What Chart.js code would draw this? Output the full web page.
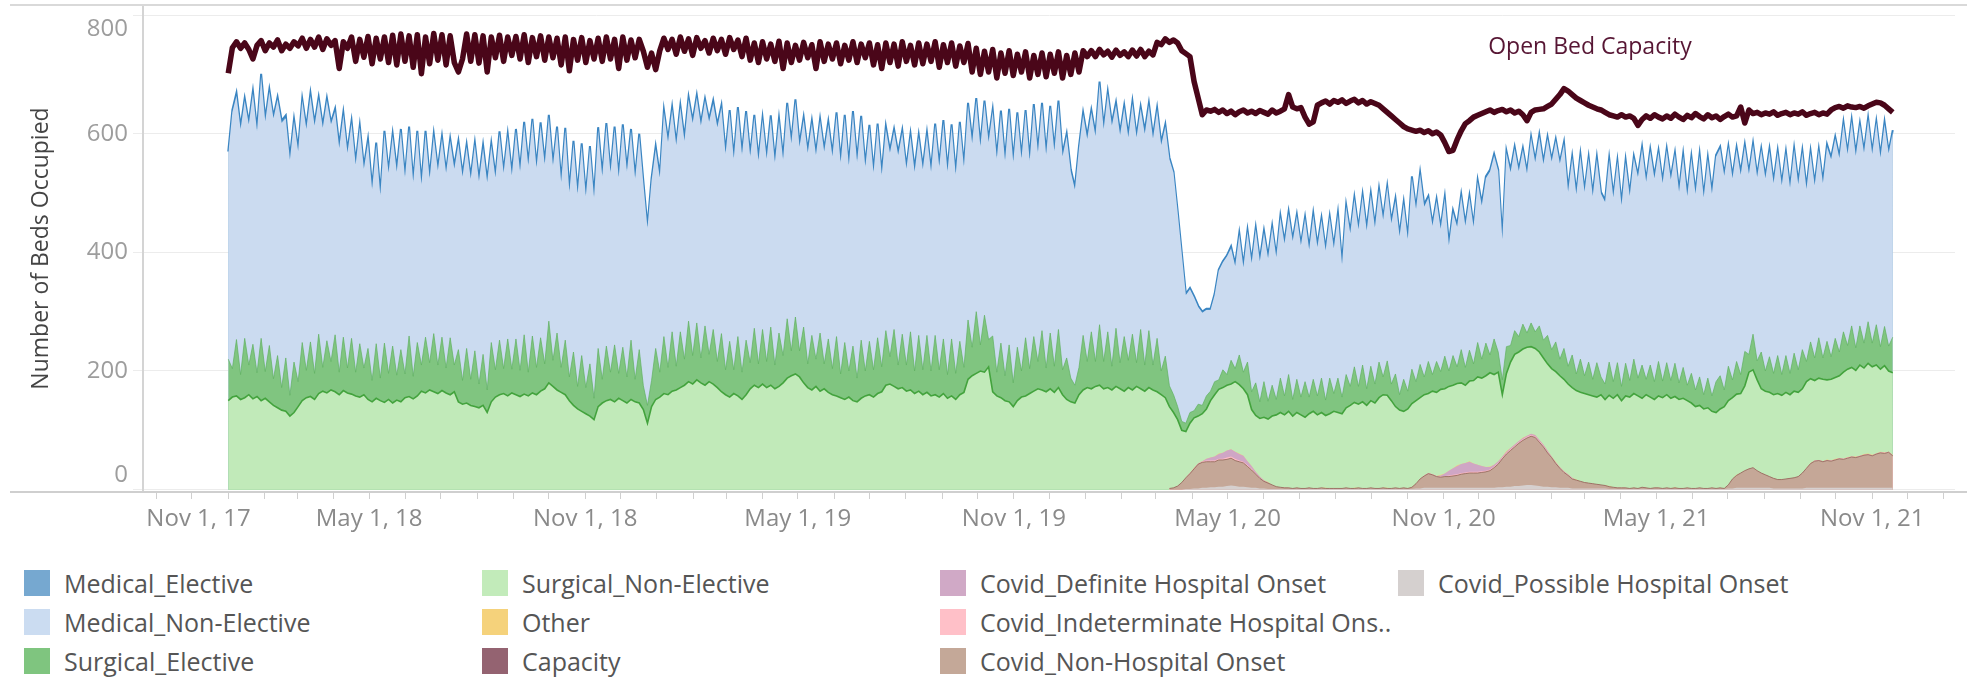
<!DOCTYPE html>
<html>
<head>
<meta charset="utf-8">
<script src="https://cdn.jsdelivr.net/npm/chart.js@4.4.1/dist/chart.umd.min.js"></script>
<style>
  body { margin: 0; background: #fff; font-family: 'Open Sans', sans-serif; }
  #wrap { position: relative; width: 1967px; height: 680px; overflow: hidden; }
  #chartBox { position: absolute; left: 0; top: 0; width: 1967px; height: 545px; }
  #legend { position: absolute; left: 24px; top: 563px; display: grid;
    grid-template-columns: repeat(4, 458px); grid-template-rows: repeat(3, 39px); grid-auto-flow: column; }
  .item { display: flex; align-items: center; font-size: 25px; color: #555; white-space: nowrap; }
  .sw { width: 26px; height: 26px; margin-right: 14px; flex: none; }
</style>
</head>
<body>
<div id="wrap">
  <div id="chartBox"><canvas id="myChart"></canvas></div>
  <div id="legend"></div>
</div>
<script>
// samples every 3.5 days, first one on 1 Jan 2018 (day 61 counted from 1 Nov 2017)
const startDay = 61;
const stepDays = 3.5;
const covidStart = 229; // sample index where the covid / other series begin

const axisLabels = ['Nov 1, 17', 'May 1, 18', 'Nov 1, 18', 'May 1, 19', 'Nov 1, 19',
  'May 1, 20', 'Nov 1, 20', 'May 1, 21', 'Nov 1, 21'];
const yTicks = [0, 200, 400, 600, 800];

const medicalElective = [
  4,4,5,4,4,3,4,4,5,4, 4,3,4,4,5,4,4,4,3,4, 5,4,4,4,4,3,4,5,4,4, 4,4,3,4,5,4,4,4,4,3,
  4,5,4,4,4,4,3,4,5,4, 4,4,4,3,4,5,4,4,4,4, 3,4,5,4,4,4,4,3,4,5, 4,4,4,4,3,4,5,4,4,4,
  4,3,4,5,4,4,4,4,3,4, 5,4,4,4,4,3,4,5,4,4, 4,4,3,4,5,4,4,4,4,3, 4,5,4,4,4,4,3,4,5,4,
  4,4,4,3,4,5,4,4,4,4, 3,4,5,4,4,4,4,3,4,5, 4,4,4,4,3,4,5,4,4,4, 4,3,4,5,4,4,4,4,3,4,
  5,4,4,4,4,3,4,5,4,4, 4,4,3,4,5,4,4,4,4,3, 4,5,4,4,4,4,3,4,5,4, 4,4,4,3,4,5,4,4,4,4,
  3,4,5,4,4,4,4,3,4,5, 4,4,4,4,3,4,5,4,4,4, 4,3,4,5,4,4,4,4,4,3, 2,2,2,2,2,2,2,2,2,2,
  2,2,2,2,3,3,3,3,3,3, 3,3,4,3,3,2,3,3,4,3, 3,2,3,3,4,3,3,3,2,3, 4,3,3,3,3,2,3,4,3,3,
  3,3,2,3,4,3,3,3,3,2, 3,4,3,3,3,2,3,3,4,3, 3,3,3,2,3,4,3,3,3,3, 2,3,4,3,3,3,3,2,3,4,
  3,3,3,3,2,3,4,3,3,3, 3,2,3,4,3,3,3,3,2,3, 4,3,3,3,3,2,3,4,3,3, 3,3,2,3,4,3,3,3,3,2,
  3,4,3,3,3,2,3,3,4,3, 3,3,3,2,3,4,3,3,3,3, 2,3,4,3,3,3,3,2,3,4, 3,3,3,3,2,3,4,3,3,3,
  3,2,3,4,3,3
];

const medicalNonElective = [
  346,432,411,414,401,406,423,407,441,422, 428,439,432,446,404,397,406,389,408,407,
  415,418,396,404,405,400,377,378,375,363, 363,350,365,336,348,322,335,308,354,338,
  354,343,368,331,349,327,354,304,343,310, 333,328,335,329,332,331,348,344,340,338,
  348,342,348,350,332,324,348,330,342,327, 350,335,355,348,363,336,358,336,344,328,
  344,312,354,311,352,324,354,322,364,338, 368,342,372,336,364,330,372,346,352,338,
  360,341,299,337,336,328,378,380,375,373, 378,368,374,392,380,392,380,392,381,395,
  381,364,386,356,383,366,382,347,356,342, 354,342,352,341,358,330,360,350,363,344,
  350,356,358,344,358,358,362,358,374,356, 380,346,392,364,374,344,361,332,358,323,
  340,344,334,354,340,331,330,336,334,338, 338,336,354,342,364,342,358,335,366,338,
  362,344,356,334,358,333,379,360,387,362, 394,372,392,358,380,350,388,352,380,359,
  380,362,381,360,374,348,330,370,372,375, 370,380,406,392,402,406,376,384,386,376,
  389,380,372,390,380,382,385,381,387,382, 374,328,283,216,208,191,164,156,145,137,
  146,184,181,199,189,173,203,177,220,217, 259,237,251,241,266,240,271,257,271,267,
  275,256,275,249,276,251,267,252,271,245, 275,223,283,258,283,265,285,267,289,264,
  290,265,293,271,292,267,296,256,322,291, 321,287,276,251,271,241,266,212,241,236,
  259,239,258,231,271,259,278,309,309,305, 237,327,292,307,279,294,269,312,286,319,
  297,332,317,339,330,345,294,332,303,343, 310,344,309,343,309,307,341,311,339,305,
  339,311,339,339,365,333,361,343,353,334, 358,339,353,322,356,319,363,331,373,333,
  369,341,379,383,361,369,340,358,337,346, 304,319,310,341,325,347,321,343,319,341,
  313,343,313,333,291,319,291,316,295,328, 333,337,327,351,323,345,324,339,321,341,
  319,341,319,341,325,346
];

const surgicalElective = [
  70,48,95,42,100,50,92,40,105,45, 95,45,88,38,90,35,85,42,98,46,
  92,44,100,40,88,48,96,38,90,42, 94,40,90,45,86,36,92,38,100,44,
  96,42,88,40,102,38,90,44,94,46, 98,48,90,42,96,45,88,40,92,44,
  94,40,86,38,100,46,92,42,96,40, 94,44,100,40,96,46,90,42,104,44,
  96,42,92,40,90,38,94,44,88,36, 98,40,92,46,96,42,90,44,100,38,
  90,40,30,44,86,42,96,46,100,40, 94,44,102,48,96,42,100,46,92,44,
  98,42,94,40,100,46,92,44,96,40, 92,44,98,40,90,46,100,42,96,44,
  94,40,92,46,98,42,90,44,100,40, 96,44,92,40,98,42,90,46,94,42,
  92,46,96,40,90,44,98,38,94,42, 96,42,100,46,92,40,96,44,90,42,
  100,48,104,44,96,46,94,40,92,42, 96,40,90,44,98,42,92,46,100,40,
  94,44,98,42,70,40,30,46,92,44, 96,42,102,46,94,40,98,44,92,46,
  94,40,100,44,96,42,90,40,70,35, 30,22,15,14,18,12,20,14,22,16,
  22,16,30,18,40,22,50,28,55,30, 55,28,60,30,52,26,58,32,62,28,
  56,30,60,28,54,32,58,26,60,30, 58,28,56,32,60,30,62,28,58,32,
  60,30,58,28,55,26,54,30,58,32, 56,30,54,28,52,30,55,26,50,28,
  56,30,52,28,58,32,55,30,60,34, 25,45,28,40,26,42,24,40,28,44,
  30,48,32,50,28,52,30,55,28,56, 30,55,28,58,30,26,56,28,54,24,
  55,28,58,30,56,26,54,30,58,28, 54,30,56,28,52,26,50,28,48,24,
  50,26,52,56,28,58,30,55,32,58, 30,60,32,62,34,60,36,64,35,62,
  36,64,38,66,34,62,38,68,36,65, 38,66,40,68,40,70,38,66,42,70,
  40,68,38,66,42,60
];

const surgicalNonElective = [
  150,156,158,152,155,160,153,157,150,154, 148,142,138,134,132,124,130,140,150,155,
  157,152,162,166,163,168,165,160,167,163, 161,158,156,160,152,148,154,150,147,152,
  146,151,148,155,157,153,158,166,163,168, 165,162,167,163,160,165,148,144,146,142,
  140,138,142,130,148,156,160,162,158,163, 160,157,161,158,163,160,166,170,180,174,
  168,164,160,150,142,136,132,128,124,118, 140,146,150,152,148,154,150,146,152,148,
  146,135,112,140,152,156,162,160,166,168, 172,176,182,178,185,180,176,182,178,172,
  165,160,156,162,158,152,160,170,176,172, 178,172,176,170,174,180,188,192,195,190,
  180,172,168,174,166,170,164,160,158,155, 152,156,150,148,154,158,160,156,162,165,
  176,178,174,170,172,166,168,162,166,160, 164,158,160,156,162,154,158,152,160,164,
  186,192,196,200,198,207,165,158,155,150, 148,140,150,156,158,162,166,170,168,165,
  170,164,172,160,152,148,146,160,168,172, 170,174,176,170,172,168,174,170,166,172,
  168,174,170,166,172,168,165,160,155,138, 127,112,88,78,84,84,80,80,84,96,
  104,108,110,110,110,118,116,113,112,95, 95,98,106,106,116,121,126,123,129,122,
  127,124,120,125,130,124,127,122,126,130, 128,126,135,140,144,141,146,140,147,144,
  153,157,156,148,137,132,129,134,141,140, 137,136,134,140,141,144,143,142,140,138,
  137,131,135,140,148,148,154,158,152,150, 104,131,145,152,150,149,149,147,146,148,
  146,146,148,152,154,155,152,152,150,150, 150,149,148,147,152,145,153,150,157,147,
  155,154,159,156,150,157,154,149,155,153, 157,152,153,150,152,147,144,138,139,134,
  136,129,128,133,138,142,137,136,134,143, 163,165,153,142,141,142,141,145,141,146,
  141,146,142,142,146,142,135,138,138,134, 137,137,139,146,148,150,145,153,145,152,
  148,149,139,146,136,138
];

// the following series start at sample covidStart
const other = [
  0,
  0,0,0,0,0,1,0,0,0,0, 0,1,0,0,0,0,1,0,0,0, 0,0,0,1,0,0,0,0,0,0, 0,0,0,0,0,0,0,1,0,0,
  0,0,0,0,1,0,0,0,0,0, 0,0,1,0,0,0,0,0,0,0, 0,0,0,0,0,1,0,0,0,1, 0,0,1,0,0,0,0,1,0,0,
  0,1,0,0,0,1,0,0,0,0, 0,0,0,1,0,0,0,0,1,0, 0,0,0,0,0,0,1,0,0,0, 0,0,0,0,0,0,0,0,0,0,
  0,0,1,0,0,0,0,0,0,0, 0,0,0,0,0,0,0,1,0,0, 0,0,0,0,0,0,0,0,1,0, 0,0,0,0,0,1,0,0,0,1,
  0,1,0,0,1,0,1,0,1,1, 1,0,1,1,0,1
];

const covidDefinite = [
  0,
  0,0,0,0,0,0,0,0,3,5, 7,8,10,12,12,12,11,10,7,5, 3,2,1,1,0,0,0,0,0,0, 0,0,0,0,0,0,0,0,0,0,
  0,0,0,0,0,0,0,0,0,0, 0,0,0,0,0,0,0,0,0,0, 0,0,0,0,0,2,4,8,11,14, 15,16,17,14,12,9,6,4,3,3,
  2,2,2,2,2,2,2,2,2,2, 2,2,1,1,1,1,1,1,0,0, 0,0,0,0,0,0,0,0,0,0, 0,0,0,0,0,0,0,0,0,0,
  0,0,0,0,0,0,0,0,0,0, 0,0,0,0,0,0,0,0,0,0, 0,0,0,0,0,0,0,0,0,0, 0,0,0,0,0,0,0,0,0,0,
  0,0,0,0,0,0,0,0,0,0, 0,0,0,0,0,0
];

const covidIndeterminate = [
  0,
  0,0,0,0,1,1,1,2,2,2, 2,2,2,3,3,3,2,2,2,2, 1,1,1,0,0,0,0,0,0,0, 0,0,0,0,0,0,0,0,0,0,
  0,0,0,0,0,0,0,0,0,0, 0,0,0,0,0,0,0,0,0,0, 0,1,1,1,1,1,1,2,2,2, 2,2,2,2,2,2,2,2,2,2,
  2,2,2,2,2,2,2,2,2,2, 2,2,1,1,1,1,1,1,0,0, 0,0,0,0,0,0,0,0,0,0, 0,0,0,0,0,0,0,0,0,0,
  0,0,0,0,0,0,0,0,0,0, 0,0,0,0,0,0,0,0,0,0, 0,0,0,0,0,0,0,0,0,0, 0,0,0,0,0,0,1,1,1,1,
  1,1,1,1,1,1,1,1,1,1, 1,1,1,1,1,1
];

const covidNonHospital = [
  2,
  3,6,12,19,26,33,41,43,44,43, 43,45,45,45,46,43,42,40,35,30, 23,17,12,10,7,4,3,2,2,1,
  2,1,1,2,1,1,2,1,1,1, 1,1,2,1,1,2,1,1,2,1, 1,2,1,1,2,1,2,1,3,8,
  16,20,24,22,19,18,19,19,20,21, 23,24,25,25,25,26,27,29,34,39,
  48,55,61,66,72,76,79,82,81,74, 67,57,50,40,33,26,21,16,14,12,
  10,9,8,7,6,5,4,3,2,2, 2,1,2,1,3,2,1,2,2,1, 2,1,2,1,1,2,1,1,2,1,
  1,2,1,2,1,6,16,21,25,29, 32,34,29,25,22,19,17,15,15,16,
  17,18,20,26,33,41,45,46,44,46, 45,47,49,48,50,52,51,53,55,56,
  54,57,59,58,60,54
];

const covidPossible = [
  0,
  0,0,0,1,1,2,2,3,3,4, 4,5,5,6,7,6,5,5,4,3, 3,2,2,1,1,1,1,1,1,1, 1,1,1,1,1,1,1,1,1,1,
  1,1,1,1,1,1,1,1,1,1, 1,1,1,1,1,1,1,1,1,2, 2,3,3,3,3,3,3,3,3,3, 3,3,3,3,3,3,3,3,3,4,
  4,5,5,6,6,7,8,8,7,6, 5,5,4,4,3,3,3,2,2,2, 2,2,2,2,2,2,1,1,1,1, 1,1,1,1,1,1,1,1,1,1,
  1,1,1,1,1,1,1,1,1,1, 1,1,1,1,1,2,2,3,3,3, 3,3,3,3,3,3,2,2,2,2, 2,2,2,2,3,3,3,3,3,3,
  3,3,3,3,3,3,3,3,3,3, 3,3,3,3,3,3
];

const capacity = [
  702,745,755,744,753,742,726,749,757,740, 753,746,758,740,751,744,755,748,761,744,
  759,746,763,742,760,749,757,710,755,744, 763,722,759,729,764,718,761,726,763,720,
  766,716,768,722,765,712,767,701,763,718, 769,724,767,716,765,720,704,726,768,722,
  767,719,765,704,763,728,766,722,763,732, 764,726,767,720,762,730,765,724,763,728,
  761,716,763,706,759,724,762,720,757,726, 761,722,763,726,759,710,763,724,758,728,
  759,739,712,736,708,740,761,742,759,734, 763,739,760,732,762,744,757,736,761,740,
  759,734,762,742,758,730,761,724,753,720, 755,726,751,722,756,710,753,720,749,724,
  754,728,750,710,755,722,751,726,753,718, 749,724,755,720,751,728,753,716,750,710,
  753,720,751,714,755,722,749,716,753,718, 751,722,755,712,750,720,753,714,748,720,
  752,704,744,700,739,704,742,694,736,702, 740,698,734,704,738,694,732,700,736,696,
  734,702,738,694,732,700,736,704,740,730, 740,730,742,733,739,729,741,732,738,730,
  741,731,742,730,739,733,754,750,760,754, 758,753,740,735,730,688,660,632,640,638,
  641,636,640,634,638,632,637,640,635,638, 634,639,636,633,640,635,638,642,666,645,
  642,644,628,616,620,648,652,655,650,656, 653,657,651,655,658,652,656,650,654,651,
  648,642,636,630,624,618,612,608,606,604, 606,602,605,600,603,598,585,570,572,590,
  605,617,622,628,631,634,637,640,636,639, 641,637,640,635,638,632,622,636,640,641,
  642,646,650,658,666,676,672,666,660,656, 652,648,645,642,640,636,632,630,628,632,
  628,630,626,614,624,630,626,632,628,625, 630,626,633,628,624,631,627,634,629,625,
  632,627,630,624,629,633,628,630,645,618, 640,634,636,632,635,633,637,631,634,636,
  632,635,633,637,631,634,636,632,635,633, 640,644,646,643,647,645,644,646,643,647,
  650,653,652,648,642,636
];

Chart.defaults.font.family = "'Open Sans', sans-serif";

const at = offset => (v, i) => ({ x: startDay + stepDays * (i + offset), y: v });

// monthly tick marks, a label every six months
const base = Date.UTC(2017, 10, 1);
const xTicks = [];
for (let k = 0; k <= 50; k++) {
  const day = (Date.UTC(2017, 10 + k, 1) - base) / 864e5;
  xTicks.push({ value: day, text: k % 6 === 0 && k > 0 ? axisLabels[k / 6] : '' });
}
// Tableau pushes the first label inside the pane
xTicks.push({ value: 35.7, text: axisLabels[0], hidden: true });
xTicks.sort((a, b) => a.value - b.value);

const area = (label, values, offset, fill, border, width) => ({
  label, data: values.map(at(offset)), backgroundColor: fill,
  borderColor: border || 'transparent', borderWidth: width || 0, fill: 'origin'
});

const datasets = [
  area('Covid_Possible Hospital Onset', covidPossible, covidStart, '#d6d0cf'),
  area('Covid_Non-Hospital Onset', covidNonHospital, covidStart, '#c5a797', 'rgba(140,100,85,0.8)', 1),
  area('Covid_Indeterminate Hospital Onset', covidIndeterminate, covidStart, '#ffbcc5'),
  area('Covid_Definite Hospital Onset', covidDefinite, covidStart, '#cfa6c5'),
  area('Other', other, covidStart, '#f3d07a'),
  area('Surgical_Non-Elective', surgicalNonElective, 0, '#c1eab9', '#43a33d', 1.6),
  area('Surgical_Elective', surgicalElective, 0, '#80c580', 'rgba(96,176,96,0.7)', 1),
  area('Medical_Non-Elective', medicalNonElective, 0, '#cbdbf0'),
  area('Medical_Elective', medicalElective, 0, '#7badd3', '#3a85c2', 2),
  { label: 'Capacity', data: capacity.map(at(0)), borderColor: '#4a0619', borderWidth: 5.5,
    borderJoinStyle: 'round', fill: false, stack: 'capacity', order: -1 }
];

const extras = {
  id: 'extras',
  beforeDatasetsDraw(chart) {
    const { ctx, chartArea: a, width } = chart;
    ctx.save();
    ctx.fillStyle = '#d9d9d9';
    ctx.fillRect(10, a.top - 1, width - 10, 2);
    ctx.restore();
  },
  afterDatasetsDraw(chart) {
    const { ctx, chartArea: a, width, scales } = chart;
    ctx.save();
    ctx.fillStyle = '#cfcfcf';
    ctx.fillRect(10, a.bottom - 1, width - 10, 2);
    ctx.font = "23px 'Open Sans'";
    ctx.fillStyle = '#571634';
    ctx.textBaseline = 'middle';
    ctx.fillText('Open Bed Capacity', scales.x.getPixelForValue(1134), scales.y.getPixelForValue(745));
    ctx.restore();
  }
};

const ctx = document.getElementById('myChart').getContext('2d');
const chart = new Chart(ctx, {
  type: 'line',
  data: { datasets },
  plugins: [extras],
  options: {
    responsive: true,
    maintainAspectRatio: false,
    animation: false,
    events: [],
    layout: { padding: { top: 5, right: 12, left: 0, bottom: 0 } },
    elements: { point: { radius: 0 }, line: { tension: 0 } },
    plugins: { legend: { display: false }, tooltip: { enabled: false } },
    scales: {
      x: {
        type: 'linear', min: -11.6, max: 1531.5,
        afterBuildTicks: s => { s.ticks = xTicks.map(t => ({ ...t })); },
        ticks: { autoSkip: false, maxRotation: 0, minRotation: 0, padding: 6,
          font: { size: 24 }, color: '#8a8a8a',
          callback: (v, i, ticks) => ticks[i].text || '' },
        grid: { drawOnChartArea: false, tickLength: 7,
          color: c => (c.tick && c.tick.hidden ? 'rgba(0,0,0,0)' : '#cfcfcf') },
        border: { display: false },
        afterFit: s => { s.height = 53; s.paddingLeft = 0; s.paddingRight = 0; }
      },
      y: {
        stacked: true, min: -4, max: 817,
        afterBuildTicks: s => { s.ticks = yTicks.map(v => ({ value: v })); },
        ticks: { font: { size: 24 }, color: '#9d9d9d', padding: 5,
          callback: v => (v === 0 ? ['0', ''] : v === 800 ? ['', '800'] : String(v)) },
        grid: { color: '#ececec', lineWidth: 1, tickLength: 10 },
        border: { display: true, color: '#d4d4d4', width: 2 },
        title: { display: true, text: 'Number of Beds Occupied', color: '#444',
          font: { size: 23 }, padding: { top: 28, bottom: 0 } },
        afterFit: s => { s.width = 143; s.paddingTop = 0; s.paddingBottom = 0; }
      }
    }
  }
});

// legend, in Tableau's column order
const legendItems = [
  ['Medical_Elective', '#76a8d0'], ['Medical_Non-Elective', '#cbdcf1'], ['Surgical_Elective', '#7fc57f'],
  ['Surgical_Non-Elective', '#c2ebba'], ['Other', '#f5d27b'], ['Capacity', '#946371'],
  ['Covid_Definite Hospital Onset', '#d0a9c6'], ['Covid_Indeterminate Hospital Ons..', '#ffc0c8'],
  ['Covid_Non-Hospital Onset', '#c4a898'], ['Covid_Possible Hospital Onset', '#d5d0cf']
];
const legend = document.getElementById('legend');
legendItems.forEach(([name, color]) => {
  const item = document.createElement('div');
  item.className = 'item';
  item.innerHTML = '<span class="sw" style="background:' + color + '"></span><span>' + name + '</span>';
  legend.appendChild(item);
});
</script>
</body>
</html>
